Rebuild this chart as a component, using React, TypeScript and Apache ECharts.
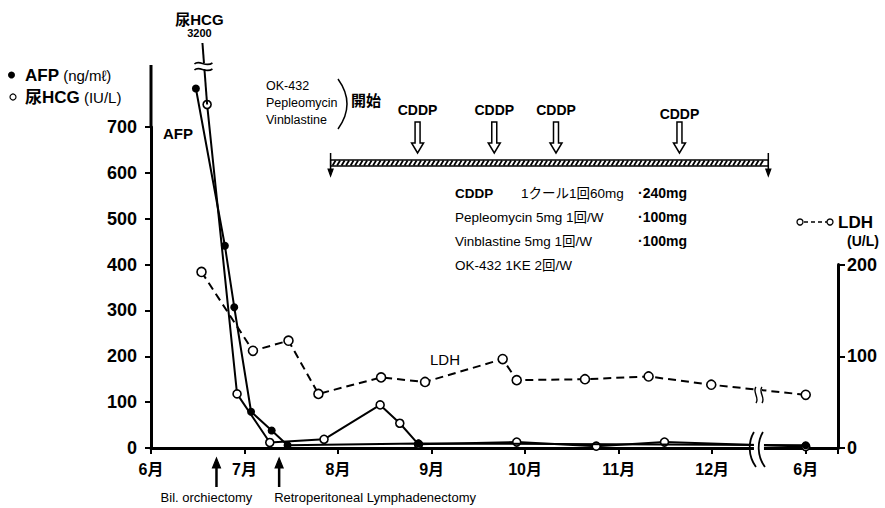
import React, { useEffect, useRef } from "react";
import * as echarts from "echarts";

// ---------------- Data ----------------
// x = months elapsed since June 1 (the axis is compressed between 12月 and the following 6月)
const monthLabels = ["6月", "7月", "8月", "9月", "10月", "11月", "12月", "6月"];
const X_MAX = 7.345;

const afpData: [number, number][] = [
  [0.48, 784], [0.79, 441], [0.89, 307], [1.07, 79], [1.29, 38], [1.46, 6], [2.86, 10], [7.0, 6],
];
const hcgData: [number, number][] = [
  [0.6, 749], [0.92, 118], [1.27, 12], [1.85, 19], [2.45, 94], [2.66, 54], [2.86, 8],
  [3.91, 13], [4.76, 4], [5.49, 13], [7.0, 3],
];
const ldhData: [number, number][] = [
  [0.54, 192], [1.09, 106], [1.47, 117], [1.79, 59], [2.46, 77], [2.93, 72], [3.76, 97],
  [3.91, 74], [4.64, 75], [5.32, 78], [5.99, 69], [7.0, 58],
];
const hcgPeak = { x: 0.55, value: 3200 };

const leftAxis = { max: 700, interval: 100 };
const rightAxis = { max: 200, interval: 100 };

const surgeries = [
  { x: 0.7, label: "Bil. orchiectomy" },
  { x: 1.37, label: "Retroperitoneal Lymphadenectomy" },
];
const cddpDoses = [2.85, 3.67, 4.33, 5.65];
const treatmentSpan = [1.92, 6.6];
const axisBreakX = 6.5;
const drugNames = ["OK-432", "Pepleomycin", "Vinblastine"];
const dosageRows = [
  ["CDDP", "1クール1回60mg", "·240mg"],
  ["Pepleomycin 5mg 1回/W", "", "·100mg"],
  ["Vinblastine 5mg 1回/W", "", "·100mg"],
  ["OK-432 1KE 2回/W", "", ""],
];

const FONT = '"Liberation Sans", Arial, "Noto Sans CJK JP", sans-serif';

export default function App() {
  const ref = useRef<HTMLDivElement>(null);

  useEffect(() => {
    const el = ref.current;
    if (!el) return;
    const chart = echarts.init(el, null, { renderer: "svg" });

    const axisLineStyle = { color: "#000", width: 3 };
    const tickStyle = { color: "#000", width: 2 };
    const labelBase = { color: "#000", fontFamily: FONT, fontWeight: "bold" as const };

    chart.setOption({
      animation: false,
      backgroundColor: "#fff",
      grid: [
        { left: 151, right: 47, top: 127, bottom: 60 },
        { left: 151, right: 47, top: 264.6, bottom: 60 },
      ],
      xAxis: [
        {
          type: "value", gridIndex: 0, min: 0, max: X_MAX, interval: 1,
          axisLine: { onZero: false, lineStyle: axisLineStyle },
          axisTick: { show: true, length: 6, lineStyle: tickStyle },
          axisLabel: {
            ...labelBase, fontSize: 16, margin: 13,
            formatter: (v: number) =>
              Math.abs(v - Math.round(v)) < 1e-6 ? monthLabels[Math.round(v)] ?? "" : "",
          },
          splitLine: { show: false },
        },
        { type: "value", gridIndex: 1, min: 0, max: X_MAX, show: false },
      ],
      yAxis: [
        {
          type: "value", gridIndex: 0, min: 0, max: leftAxis.max, interval: leftAxis.interval,
          position: "left",
          axisLine: { show: true, onZero: false, lineStyle: axisLineStyle },
          axisTick: { show: true, length: 6, lineStyle: tickStyle },
          axisLabel: { ...labelBase, fontSize: 18, margin: 14 },
          splitLine: { show: false },
        },
        {
          type: "value", gridIndex: 1, min: 0, max: rightAxis.max, interval: rightAxis.interval,
          position: "right",
          axisLine: { show: true, onZero: false, lineStyle: axisLineStyle },
          axisTick: { show: true, length: 7, lineStyle: tickStyle },
          axisLabel: { ...labelBase, fontSize: 18, margin: 9 },
          splitLine: { show: false },
        },
      ],
      series: [
        {
          name: "AFP", type: "line", xAxisIndex: 0, yAxisIndex: 0, data: afpData, clip: false,
          symbol: "circle", symbolSize: 8, z: 4,
          itemStyle: { color: "#000" },
          lineStyle: { color: "#000", width: 2 },
        },
        {
          name: "尿HCG", type: "line", xAxisIndex: 0, yAxisIndex: 0, data: hcgData, clip: false,
          symbol: "circle", symbolSize: 8, z: 3,
          itemStyle: { color: "#fff", borderColor: "#000", borderWidth: 1.6 },
          lineStyle: { color: "#000", width: 2 },
        },
        {
          name: "LDH", type: "line", xAxisIndex: 1, yAxisIndex: 1, data: ldhData, clip: false,
          symbol: "circle", symbolSize: 9, z: 3,
          itemStyle: { color: "#fff", borderColor: "#000", borderWidth: 1.6 },
          lineStyle: { color: "#000", width: 2, type: [8, 5] },
        },
      ],
    });

    const p0 = (x: number, y: number) => chart.convertToPixel({ gridIndex: 0 }, [x, y]) as number[];
    const p1 = (x: number, y: number) => chart.convertToPixel({ gridIndex: 1 }, [x, y]) as number[];

    const g: any[] = [];
    const T = (text: string, x: number, y: number, s: any = {}) =>
      g.push({
        type: "text", x, y, z: 20, silent: true,
        style: { text, fill: "#000", fontFamily: FONT, fontSize: 14, align: "left", verticalAlign: "middle", ...s },
      });
    const L = (x1: number, y1: number, x2: number, y2: number, w = 2, z = 20) =>
      g.push({ type: "line", z, silent: true, shape: { x1, y1, x2, y2 }, style: { stroke: "#000", lineWidth: w } });
    const POLY = (points: number[][], fill = "#000", stroke = "#000", w = 1.2, z = 20) =>
      g.push({ type: "polygon", z, silent: true, shape: { points }, style: { fill, stroke, lineWidth: w } });
    const CURVE = (x1: number, y1: number, cpx1: number, cpy1: number, cpx2: number, cpy2: number, x2: number, y2: number, w = 1.6) =>
      g.push({
        type: "bezierCurve", z: 22, silent: true,
        shape: { x1, y1, x2, y2, cpx1, cpy1, cpx2, cpy2 },
        style: { stroke: "#000", lineWidth: w, fill: "none" },
      });
    const WHITE = (x: number, y: number, w: number, h: number) =>
      g.push({ type: "rect", z: 21, silent: true, shape: { x, y, width: w, height: h }, style: { fill: "#fff" } });

    // extend left axis line above 700
    const origin = p0(0, 0);
    const top700 = p0(0, leftAxis.max);
    L(origin[0], top700[1] + 1, origin[0], 65, 3);

    // HCG off-scale peak (3200) with break mark
    const hcgFirst = p0(hcgData[0][0], hcgData[0][1]);
    const peakX = p0(hcgPeak.x, 0)[0];
    L(peakX, 43, hcgFirst[0], hcgFirst[1], 2, 5);
    WHITE(peakX - 8, 63, 18, 6);
    CURVE(peakX - 8, 64, peakX - 3, 59, peakX + 3, 68, peakX + 10, 63);
    CURVE(peakX - 8, 70, peakX - 3, 65, peakX + 3, 74, peakX + 10, 69);
    T("尿HCG", peakX - 3, 19, { align: "center", fontSize: 15, fontWeight: "bold" });
    T(String(hcgPeak.value), peakX - 3, 33, { align: "center", fontSize: 11, fontWeight: "bold" });

    // legend (top-left)
    g.push({ type: "circle", z: 20, silent: true, shape: { cx: 11.5, cy: 75, r: 3.5 }, style: { fill: "#000" } });
    T("{b|AFP}{n| (ng/mℓ)}", 25, 75, {
      rich: {
        b: { fontSize: 17, fontWeight: "bold", fontFamily: FONT },
        n: { fontSize: 15, fontFamily: FONT },
      },
    });
    g.push({
      type: "circle", z: 20, silent: true, shape: { cx: 13, cy: 97, r: 3 },
      style: { fill: "#fff", stroke: "#000", lineWidth: 1.2 },
    });
    T("{b|尿HCG}{n| (IU/L)}", 25, 97, {
      rich: {
        b: { fontSize: 17, fontWeight: "bold", fontFamily: FONT },
        n: { fontSize: 15, fontFamily: FONT },
      },
    });

    // series labels
    T("AFP", 178, 133, { align: "center", fontSize: 15, fontWeight: "bold" });
    T("LDH", 445, 359, { align: "center", fontSize: 15 });

    // LDH legend (right)
    g.push({ type: "circle", z: 20, silent: true, shape: { cx: 800, cy: 222, r: 3 }, style: { fill: "#fff", stroke: "#000", lineWidth: 1.3 } });
    g.push({ type: "circle", z: 20, silent: true, shape: { cx: 830, cy: 222, r: 3 }, style: { fill: "#fff", stroke: "#000", lineWidth: 1.3 } });
    g.push({ type: "line", z: 20, silent: true, shape: { x1: 804, y1: 222, x2: 827, y2: 222 }, style: { stroke: "#000", lineWidth: 1.5, lineDash: [4, 3] } });
    T("LDH", 838, 222, { fontSize: 17, fontWeight: "bold" });
    T("(U/L)", 847, 241, { fontSize: 14, fontWeight: "bold" });

    // treatment start annotation
    drugNames.forEach((d, i) => T(d, 266, 86 + i * 17, { fontSize: 12.5 }));
    g.push({
      type: "bezierCurve", z: 20, silent: true,
      shape: { x1: 338, y1: 79, x2: 338, y2: 129, cpx1: 356, cpy1: 104 },
      style: { stroke: "#000", lineWidth: 1.5, fill: "none" },
    });
    T("開始", 351, 100, { fontSize: 15, fontWeight: "bold" });

    // treatment bar (hatched)
    const bx0 = p0(treatmentSpan[0], 0)[0];
    const bx1 = p0(treatmentSpan[1], 0)[0];
    const by = 160;
    g.push({ type: "rect", z: 19, silent: true, shape: { x: bx0, y: by, width: bx1 - bx0, height: 6 }, style: { fill: "#fff", stroke: "#000", lineWidth: 1.3 } });
    for (let x = bx0 + 2; x < bx1 - 4; x += 4.5) L(x, by + 5.5, x + 3, by + 0.5, 1.8, 20);
    [bx0, bx1].forEach((bx) => {
      L(bx, 153, bx, 170, 1.5);
      POLY([[bx - 2.5, 169], [bx + 2.5, 169], [bx, 176]]);
    });

    // CDDP arrows
    cddpDoses.forEach((d, i) => {
      const cx = p0(d, 0)[0];
      T("CDDP", cx, i === 3 ? 114 : 110, { align: "center", fontSize: 14, fontWeight: "bold" });
      POLY(
        [[cx - 2.5, 122], [cx + 2.5, 122], [cx + 2.5, 143], [cx + 6, 143], [cx, 153], [cx - 6, 143], [cx - 2.5, 143]],
        "#fff", "#000", 1.5,
      );
    });

    // dosage table
    dosageRows.forEach((row, i) => {
      const y = 193 + i * 24;
      T(row[0], 455, y, { fontSize: 13.5, fontWeight: i === 0 ? "bold" : "normal" });
      if (row[1]) T(row[1], 521, y, { fontSize: 13.5 });
      if (row[2]) T(row[2], 638, y, { fontSize: 14, fontWeight: "bold" });
    });

    // surgeries
    surgeries.forEach((s, i) => {
      const sx = p0(s.x, 0)[0];
      L(sx, 487, sx, 465, 2.5);
      POLY([[sx - 4, 468], [sx + 4, 468], [sx, 458]]);
      if (i === 0) T(s.label, sx - 10, 497, { align: "center", fontSize: 13 });
      else T(s.label, sx - 5, 497, { align: "left", fontSize: 13 });
    });

    // x-axis break
    const brx = p0(axisBreakX, 0)[0];
    WHITE(brx - 5, 438, 10, 16);
    CURVE(brx - 5, 432, brx - 11, 442, brx - 11, 456, brx - 3, 467, 1.8);
    CURVE(brx + 4, 432, brx - 2, 442, brx - 2, 456, brx + 6, 467, 1.8);

    // LDH line break
    const ldhBreakY = p1(axisBreakX, 0)[1] - (448 - 395);
    WHITE(brx - 3, ldhBreakY - 7, 6, 14);
    CURVE(brx - 3, ldhBreakY - 8, brx - 7, ldhBreakY - 3, brx + 1, ldhBreakY + 3, brx - 3, ldhBreakY + 8, 1.4);
    CURVE(brx + 3, ldhBreakY - 8, brx - 1, ldhBreakY - 3, brx + 7, ldhBreakY + 3, brx + 3, ldhBreakY + 8, 1.4);

    chart.setOption({ graphic: g });

    return () => chart.dispose();
  }, []);

  return (
    <div
      ref={ref}
      style={{ position: "fixed", left: 0, top: 0, width: 885, height: 508, background: "#fff" }}
    />
  );
}
